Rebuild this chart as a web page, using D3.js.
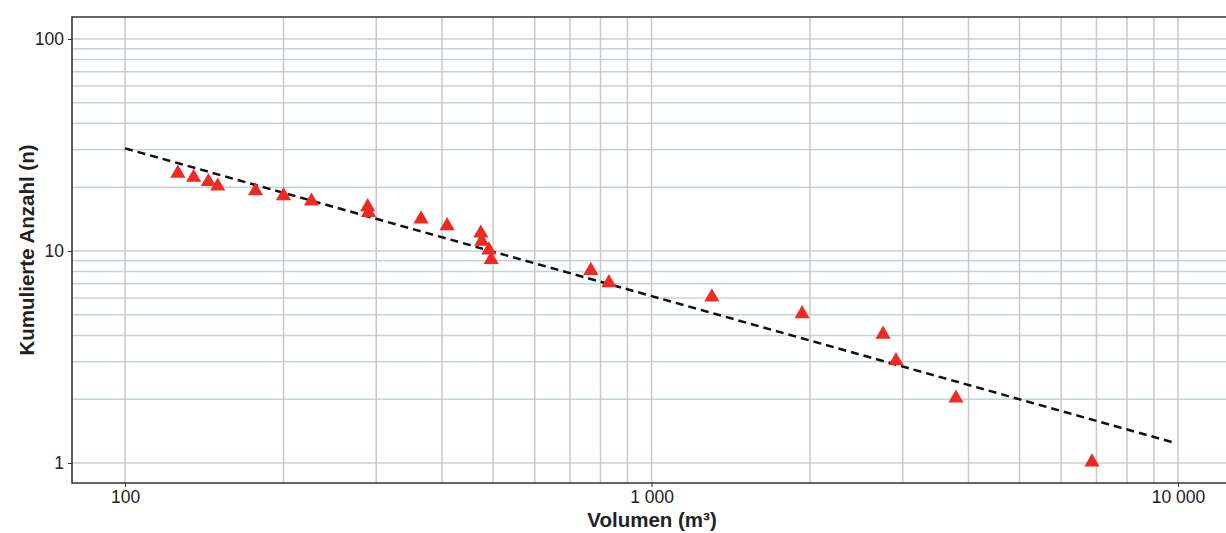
<!DOCTYPE html>
<html>
<head>
<meta charset="utf-8">
<script src="https://cdn.jsdelivr.net/npm/d3@7"></script>
<style>
  body { margin: 0; background: #fff; }
  svg { display: block; font-family: "Liberation Sans", Arial, sans-serif; }
</style>
</head>
<body>
<svg id="chart" width="1226" height="533"></svg>
<script>
// cumulative count vs. volume
const volumes = [126, 135, 144, 150, 177, 200, 226, 289, 290, 365, 409, 474, 476, 491, 496, 767, 830, 1302, 1932, 2753, 2913, 3787, 6865];
const counts  = [23, 22, 21, 20, 19, 18, 17, 16, 15, 14, 13, 12, 11, 10, 9, 8, 7, 6, 5, 4, 3, 2, 1];
// fitted power law, end points
const fitX = [100, 9800];
const fitY = [30.5, 1.25];
const xTicks = [100, 1000, 10000];
const xTickLabels = ["100", "1 000", "10 000"];
const yTicks = [1, 10, 100];
const yTickLabels = ["1", "10", "100"];

const svg = d3.select("#chart");
const pLeft = 72, pTop = 17, pBottom = 483, pRight = 1240;

const x = d3.scaleLog().domain([79.3, 100 * Math.pow(10, (pRight - 125) / 526.5)]).range([pLeft, pRight]);
const y = d3.scaleLog().domain([0.805, 127]).range([pBottom, pTop]);

const gridX = [];
for (let d = 100; d <= 10000; d *= 10) for (let k = 1; k < 10; k++) if (d * k <= 10000) gridX.push(d * k);
const gridY = [];
for (let d = 1; d <= 100; d *= 10) for (let k = 1; k < 10; k++) if (d * k <= 100) gridY.push(d * k);

const g = svg.append("g");

// grid
g.selectAll(".gy").data(gridY).join("line")
  .attr("x1", pLeft).attr("x2", pRight)
  .attr("y1", d => y(d)).attr("y2", d => y(d))
  .attr("stroke", "#c3d3da").attr("stroke-width", 1.5);
g.selectAll(".gx").data(gridX).join("line")
  .attr("x1", d => x(d)).attr("x2", d => x(d))
  .attr("y1", pTop).attr("y2", pBottom)
  .attr("stroke", "#ccc6c6").attr("stroke-width", 1.5);

// frame (top, left, bottom)
svg.append("path")
  .attr("d", `M${pRight},${pTop}H${pLeft}V${pBottom}H${pRight}`)
  .attr("fill", "none").attr("stroke", "#333").attr("stroke-width", 1.6);

// axes
const xAxis = d3.axisBottom(x).tickValues(xTicks).tickSize(4).tickPadding(4)
  .tickFormat((d, i) => xTickLabels[i]);
const ax = svg.append("g").attr("transform", `translate(0,${pBottom})`).call(xAxis);
ax.select(".domain").remove();
ax.selectAll("text").attr("font-size", 17.5).attr("fill", "#222").attr("font-family", "Liberation Sans, Arial");
ax.selectAll("line").attr("stroke", "#333");

const yAxis = d3.axisLeft(y).tickValues(yTicks).tickSize(4).tickPadding(4)
  .tickFormat((d, i) => yTickLabels[i]);
const ay = svg.append("g").attr("transform", `translate(${pLeft},0)`).call(yAxis);
ay.select(".domain").remove();
ay.selectAll("text").attr("font-size", 17.5).attr("fill", "#222").attr("font-family", "Liberation Sans, Arial");
ay.selectAll("line").attr("stroke", "#333");

// fit line
svg.append("line")
  .attr("x1", x(fitX[0])).attr("y1", y(fitY[0]))
  .attr("x2", x(fitX[1])).attr("y2", y(fitY[1]))
  .attr("stroke", "#111").attr("stroke-width", 2.5)
  .attr("stroke-dasharray", "8,5");

// points
const tri = d3.symbol().type(d3.symbolTriangle).size(100);
svg.selectAll(".pt").data(volumes).join("path")
  .attr("d", tri)
  .attr("transform", (d, i) => `translate(${x(d)},${y(counts[i]) - 1})`)
  .attr("fill", "#ee2a22");

// titles
svg.append("text")
  .attr("x", 652).attr("y", 527)
  .attr("text-anchor", "middle")
  .attr("font-size", 20.5).attr("font-weight", "bold").attr("fill", "#222")
  .text("Volumen (m³)");
svg.append("text")
  .attr("transform", "translate(34,250) rotate(-90)")
  .attr("text-anchor", "middle")
  .attr("font-size", 20.5).attr("font-weight", "bold").attr("fill", "#222")
  .text("Kumulierte Anzahl (n)");
</script>
</body>
</html>
